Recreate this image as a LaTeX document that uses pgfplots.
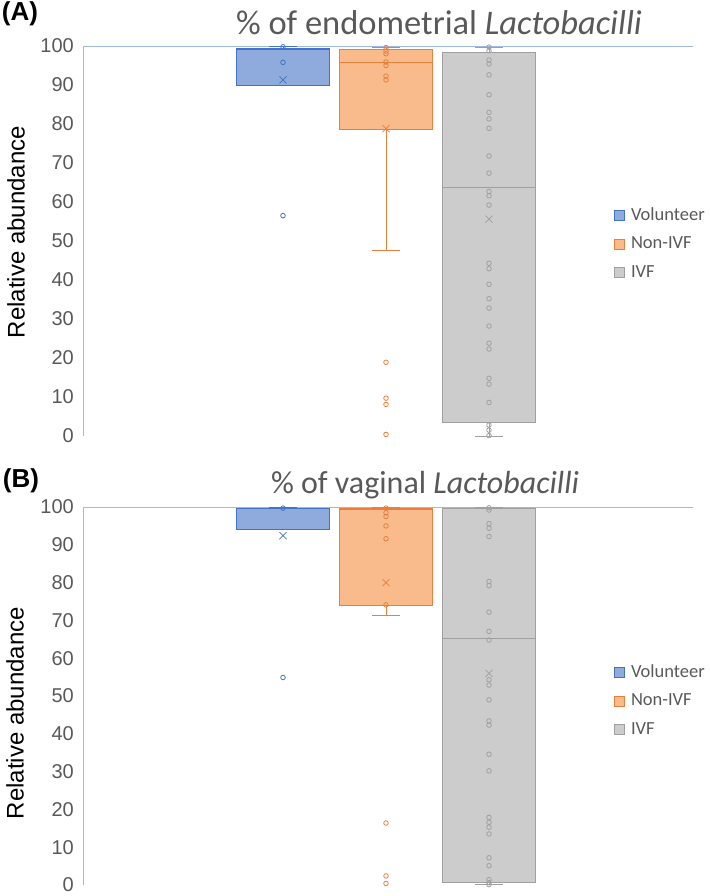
\documentclass[border=0pt]{standalone}
\usepackage{fontspec}
\setmainfont{Liberation Sans}
\newfontfamily\calibri{Carlito}
\usepackage{pgfplots}
\pgfplotsset{compat=1.18}
\usepgfplotslibrary{statistics}
\definecolor{vfill}{RGB}{143,170,220}
\definecolor{vline}{RGB}{68,114,196}
\definecolor{nfill}{RGB}{249,187,140}
\definecolor{nline}{RGB}{232,128,60}
\definecolor{ifill}{RGB}{204,204,204}
\definecolor{iline}{RGB}{160,160,160}
\definecolor{txt}{RGB}{89,89,89}
\definecolor{axl}{RGB}{160,185,225}
\pgfplotsset{legend image code/.code={\draw[#1,line width=0.8pt] (0pt,-5pt) rectangle (10pt,5pt);}}
\pgfplotsset{panel/.style={
  scale only axis, width=610pt, xmin=0, xmax=610, ymin=0, ymax=100,
  clip=false, axis y line*=left, axis x line*=top,
  axis line style={draw=axl, line width=0.8pt},
  xtick=\empty, ytick={0,10,...,100}, major tick length=0pt,
  /pgf/number format/assume math mode=true,
  yticklabel style={anchor=east, inner sep=0pt, xshift=-9pt, text=txt, font=\fontsize{20}{24}\selectfont},
  legend style={anchor=north west, draw=none, fill=none, inner sep=0pt,
    font=\calibri\fontsize{18.5}{22}\selectfont, text=txt,
    row sep=13.5pt, column sep=6pt,
    nodes={inner sep=0pt, text height=12pt, text depth=3pt}},
  legend cell align=left,
  boxplot/draw direction=y,
  boxplot/whisker extend=28, boxplot/box extend=93,
}}
\begin{document}
\begin{tikzpicture}
\path[use as bounding box] (0pt,0pt) rectangle (709pt,-896pt);
% ---------- Panel A ----------
\begin{axis}[panel, at={(83pt,-46pt)}, anchor=north west, height=390pt,
  legend style={at={(0.8705,0.585)}}]
\addplot[boxplot prepared={draw direction=y, draw position=200, lower whisker=90, lower quartile=90, median=99.2, upper quartile=99.4, upper whisker=99.8}, draw=vline, fill=vfill, line width=0.8pt, forget plot] coordinates {};
\addplot[boxplot prepared={draw direction=y, draw position=303, lower whisker=47.5, lower quartile=78.5, median=95.8, upper quartile=99.2, upper whisker=99.6}, draw=nline, fill=nfill, line width=0.8pt, forget plot] coordinates {};
\addplot[boxplot prepared={draw direction=y, draw position=406, lower whisker=0, lower quartile=3.4, median=63.7, upper quartile=98.4, upper whisker=99.7}, draw=iline, fill=ifill, line width=0.8pt, forget plot] coordinates {};
% points
\addplot[only marks, mark=o, mark size=2.3pt, draw=vline, line width=0.8pt, forget plot] coordinates {(200,99.8) (200,95.8) (200,56.5)};
\addplot[only marks, mark=x, mark size=5pt, draw=vline, line width=0.7pt, forget plot] coordinates {(200,91.3)};
\addplot[only marks, mark=o, mark size=2.3pt, draw=nline, line width=0.8pt, forget plot] coordinates {(303,99.6) (303,98.7) (303,98.0) (303,95.9) (303,95.0) (303,92.3) (303,91.3) (303,18.9) (303,9.7) (303,8.1) (303,0.4)};
\addplot[only marks, mark=x, mark size=5pt, draw=nline, line width=0.7pt, forget plot] coordinates {(303,78.8)};
\addplot[only marks, mark=o, mark size=2.3pt, draw=iline, line width=0.8pt, forget plot] coordinates {(406,99.7) (406,98.8) (406,96.4) (406,95.4) (406,92.6) (406,87.5) (406,83.0) (406,81.3) (406,78.9) (406,71.8) (406,67.4) (406,62.7) (406,61.6) (406,59.2) (406,44.3) (406,42.9) (406,38.9) (406,35.2) (406,32.8) (406,28.2) (406,23.8) (406,22.3) (406,14.8) (406,13.3) (406,8.6) (406,2.8) (406,1.5) (406,0.1)};
\addplot[only marks, mark=x, mark size=5pt, draw=iline, line width=0.7pt, forget plot] coordinates {(406,55.6)};
\addlegendimage{draw=vline, fill=vfill}\addlegendentry{Volunteer}
\addlegendimage{draw=nline, fill=nfill}\addlegendentry{Non-IVF}
\addlegendimage{draw=iline, fill=ifill}\addlegendentry{IVF}
\end{axis}
% ---------- Panel B ----------
\begin{axis}[panel, at={(83pt,-507pt)}, anchor=north west, height=378pt,
  legend style={at={(0.8705,0.582)}}]
\addplot[boxplot prepared={draw direction=y, draw position=200, lower whisker=94.2, lower quartile=94.2, median=99.5, upper quartile=99.7, upper whisker=99.8}, draw=vline, fill=vfill, line width=0.8pt, forget plot] coordinates {};
\addplot[boxplot prepared={draw direction=y, draw position=303, lower whisker=71.3, lower quartile=74.1, median=99.3, upper quartile=99.6, upper whisker=99.8}, draw=nline, fill=nfill, line width=0.8pt, forget plot] coordinates {};
\addplot[boxplot prepared={draw direction=y, draw position=406, lower whisker=0.2, lower quartile=0.8, median=65.3, upper quartile=99.5, upper whisker=99.8}, draw=iline, fill=ifill, line width=0.8pt, forget plot] coordinates {};
\addplot[only marks, mark=o, mark size=2.3pt, draw=vline, line width=0.8pt, forget plot] coordinates {(200,99.7) (200,54.9)};
\addplot[only marks, mark=x, mark size=5pt, draw=vline, line width=0.7pt, forget plot] coordinates {(200,92.4)};
\addplot[only marks, mark=o, mark size=2.3pt, draw=nline, line width=0.8pt, forget plot] coordinates {(303,99.7) (303,98.5) (303,97.5) (303,95.0) (303,91.6) (303,74.1) (303,16.4) (303,2.4) (303,0.4)};
\addplot[only marks, mark=x, mark size=5pt, draw=nline, line width=0.7pt, forget plot] coordinates {(303,80.0)};
\addplot[only marks, mark=o, mark size=2.3pt, draw=iline, line width=0.8pt, forget plot] coordinates {(406,99.8) (406,99.2) (406,95.6) (406,94.4) (406,92.2) (406,80.3) (406,79.2) (406,72.2) (406,67.1) (406,64.8) (406,54.3) (406,52.9) (406,49.0) (406,43.4) (406,42.3) (406,34.6) (406,30.2) (406,17.9) (406,16.6) (406,15.3) (406,13.5) (406,7.2) (406,5.1) (406,1.4) (406,0.6) (406,0.1)};
\addplot[only marks, mark=x, mark size=5pt, draw=iline, line width=0.7pt, forget plot] coordinates {(406,56.0)};
\addlegendimage{draw=vline, fill=vfill}\addlegendentry{Volunteer}
\addlegendimage{draw=nline, fill=nfill}\addlegendentry{Non-IVF}
\addlegendimage{draw=iline, fill=ifill}\addlegendentry{IVF}
\end{axis}
% ---------- texts ----------
\node[font=\calibri\fontsize{34.5}{38}\selectfont, text=txt, anchor=base] at (439pt,-35pt) {\% of endometrial \textit{Lactobacilli}};
\node[font=\calibri\fontsize{32}{36}\selectfont, text=txt, anchor=base] at (425pt,-493pt) {\% of vaginal \textit{Lactobacilli}};
\node[font=\fontsize{24}{28}\selectfont, rotate=90, inner sep=0pt] at (16pt,-232pt) {Relative abundance};
\node[font=\fontsize{24}{28}\selectfont, rotate=90, inner sep=0pt] at (15pt,-713pt) {Relative abundance};
\node[font=\bfseries\fontsize{26}{30}\selectfont, inner sep=0pt] at (20pt,-14pt) {(A)};
\node[font=\bfseries\fontsize{26}{30}\selectfont, inner sep=0pt] at (21pt,-481pt) {(B)};
\end{tikzpicture}
\end{document}
